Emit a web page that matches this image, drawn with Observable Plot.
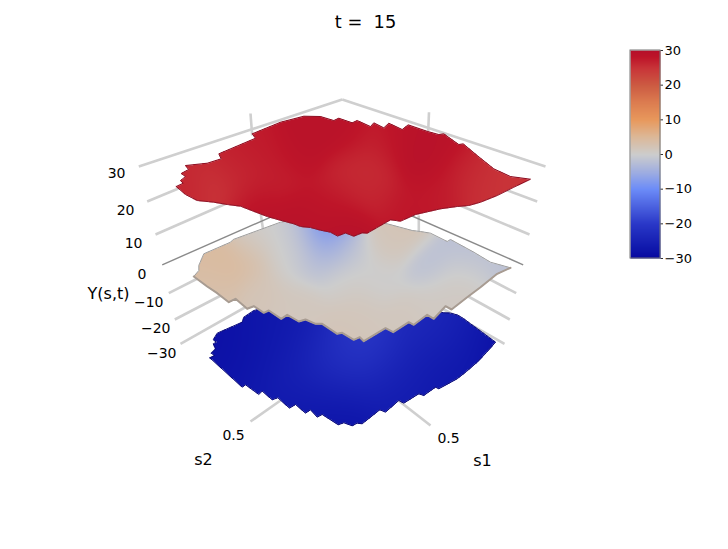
<!DOCTYPE html>
<html><head><meta charset="utf-8">
<style>html,body{margin:0;padding:0;background:#fff}svg{display:block}</style>
<script src="https://cdn.jsdelivr.net/npm/d3@7"></script>
<script src="https://cdn.jsdelivr.net/npm/@observablehq/plot@0.6"></script>
</head><body><script>
// Values, in the view plane of the 3-D scene.
const colorStops = [-30,-27,-20,-10,-5,0,5,10,15,20,25,28,30];
const colorRange = ["#0808a0","#1018ac","#2a38c8","#6c8cf8","#a0aee0","#cdcdcd","#dcb898","#e8985c","#dc7c50","#cc5a42","#c83338","#be1529","#b5102a"];

const redOutlineX = [175.7,182.7,180,185,180.7,188,185,206.7,220.7,218.3,255,251.7,280,303.3,320,333.3,338.3,351.7,356.7,370,373.3,383.3,388.3,401.7,407.7,427.3,438.3,443.3,458.3,462.7,476.7,493.3,510,530,513.3,496.7,480,468.3,456.7,440,415,400,390,366.7,361.7,353.3,345,337,330,320,310,300,293.3,278.3,266.7,240,226.7,213.3,196.7,185];
const redOutlineY = [186,182.7,180,176,173,169,165,162.7,158.3,153.3,137.7,133.3,121.7,115.7,116,120,117.7,122.3,120,126,122.3,127.3,122.7,129,124.3,131,134,133.3,144,143.3,155,168.3,176,178.7,186.7,195,201.7,205,206,208.3,214,220.7,219.3,232.7,232.3,235.7,232.5,235.5,231.7,229.7,227,226,223.3,219.3,216,205.7,204,201.7,200,194];
const midOutlineX = [193.3,198.3,198.3,203.3,230,232.7,280,320,386.7,411.7,420,430,446.7,450,473.3,490,510,496.7,480,466.7,451,445,433.3,426.7,413.3,408.3,392.7,385,363.3,359.3,353.3,341.7,336.7,321.7,315,305,298.3,286.7,280.7,268.3,263.3,253.3,246.7,235,228.3,216.7,206.7];
const midOutlineY = [276,270,265,253.3,241.7,239,221.7,215,223.3,230,231,232.7,241,239,251.7,261.7,267.3,273.3,286.7,296.7,309,305.7,318.3,314.3,324.3,321.7,331.7,327.7,340.7,336.7,339.3,332.3,333.3,323.3,323.3,319,321,314.3,318.3,310,312.3,305.7,308.3,298.3,301.7,292.7,286];
const bluOutlineX = [209.3,214,210.7,215,212.7,216,212.7,216.7,241.7,243.3,253.3,340,443.3,450,457,463,470,482,495,486,476.7,466,456.7,438.3,435,423.3,418.3,403.3,398.3,385,379.3,361.7,356.7,351.7,343.3,337.7,321.7,316.7,310,305,295,289,277.3,271.7,261.7,258.3,245,241.7];
const bluOutlineY = [357.3,355,352.7,348.3,343.3,341.7,339.3,332.7,321.7,316.7,310,290,312.3,312.6,314.5,318,323.3,332,341.7,352,361.7,371,378.3,388.3,386.7,395,393.3,402.7,400,411.7,409.3,423.3,422.7,425.3,422.3,424.3,414,416.7,409.3,412.7,404,407.7,397.3,399.3,390.7,394,384.3,386.7];

const redSampleX = [215,190,240,280,303,315,260,230,330,250,300,345,345,370,376,417,440,490,480,440,373,407,510,470,345,400,190];
const redSampleY = [190,180,180,175,150,125,150,165,200,205,220,230,175,170,140,157,140,177,187,190,190,207,178,165,130,135,195];
const redSampleV = [23.5,26,26,27,29,29,27.5,27,28,29,29,29.5,26,25.5,26.5,29.5,29,24.5,25.5,27.5,26.5,28,25,27,29,29,27];
const midSampleX = [225,205,250,215,260,300,345,290,325,330,315,350,340,300,390,400,430,470,500,450,400,380,255,470,280,360,430,300];
const midSampleY = [265,270,255,285,290,300,330,260,230,245,262,250,280,235,240,228,265,260,267,290,320,280,235,280,240,310,305,325];
const midSampleV = [4.8,4,3.8,2.8,2,1.5,2,0.3,-12,-4.5,-2.5,-0.5,0.5,-1.5,1.5,2.5,-2,-2.2,-2,1,1.5,0,0,1.2,0,1.5,1,1.5];
const bluSampleX = [367,330,290,423,460,490,223,270,340,400,450,300,250,340,390,430,300];
const bluSampleY = [350,360,380,330,330,342,350,340,417,395,375,405,375,390,375,360,345];
const bluSampleV = [-20,-21,-25,-23,-25,-29,-28.5,-27.5,-28.5,-27,-27.5,-27.5,-27.5,-25,-24,-26,-26];

const gridOuterLeftX = [138.3,146.7,155,161.7,168.3,174.3,180];
const gridOuterY     = [166,201,234,264.3,292.7,319,343.3];
const gridOuterRightX= [545,536.7,529,522.7,515.7,509.3,504];
const gridInnerLeftX = [341.7,190,235,342,205,230,255];
const gridInnerLeftY = [99,183,199,185,274,290,301];
const gridInnerRightX= [341.7,496,450,342,480,457,433];
const gridInnerY2    = [99,186,201,185,274,290,303];
const gridValues = [30,20,10,0,-10,-20,-30];
const leftLabelEnd = [125,134,142,146,163,170,176];
const leftLabelY = [173,210,243,274,302,328,353];

const postX1 = [250,428.5,260,418.3], postY1 = [113,111.7,211.7,215];
const postX2 = [251.7,427.7,262.7,418.3], postY2 = [135,131,230,232];
const footX1 = [250,430], footY1 = [421,425], footX2 = [280,398], footY2 = [400,400];
const barTicks = [30,20,10,0,-10,-20,-30];

const fmt = v => String(v).replace("-", "\u2212");
const rows = (xs, ys) => xs.map((x, i) => ({x, y: ys[i]}));
const barY = v => 50 + (30 - v) / 60 * 208;

function surface(ox, oy, sx, sy, sv, s) {
  const poly = ox.map((x, i) => [x, oy[i]]);
  return (x, y) => {
    if (!d3.polygonContains(poly, [x, y])) return NaN;
    let a = 0, b = 0;
    for (let i = 0; i < sx.length; i++) {
      const d = (x - sx[i]) ** 2 + (y - sy[i]) ** 2;
      const w = Math.exp(-d / (2 * s * s)) + 1e-9;
      a += w * sv[i]; b += w;
    }
    return a / b;
  };
}
function layer(ox, oy, sx, sy, sv, s) {
  return Plot.raster({
    fill: surface(ox, oy, sx, sy, sv, s),
    x1: d3.min(ox) - 1, x2: d3.max(ox) + 1,
    y1: d3.min(oy) - 1, y2: d3.max(oy) + 1,
    pixelSize: 1
  });
}
function rim(ox, oy, stroke, strokeWidth) {
  const r = rows(ox, oy); r.push(r[0]);
  return Plot.line(r, {x: "x", y: "y", stroke: () => stroke, strokeWidth});
}
const idx = d3.range(gridValues.length);
const solid = idx.filter(i => gridValues[i] !== 0);
const font = {fontFamily: "DejaVu Sans", fill: "#000"};

const midLower = d3.range(16, midOutlineX.length).concat([0]);

const plot = Plot.plot({
  width: 728, height: 549, margin: 0,
  x: {domain: [0, 728], range: [0, 728], axis: null},
  y: {domain: [0, 549], range: [0, 549], axis: null},
  color: {type: "linear", domain: colorStops, range: colorRange, legend: false},
  style: {fontFamily: "DejaVu Sans", background: "#fff"},
  marks: [
    Plot.link(solid, {x1: i => gridOuterLeftX[i], y1: i => gridOuterY[i], x2: i => gridInnerLeftX[i], y2: i => gridInnerLeftY[i], stroke: "#cfcfcf", strokeWidth: 2.6}),
    Plot.link(solid, {x1: i => gridOuterRightX[i], y1: i => gridOuterY[i], x2: i => gridInnerRightX[i], y2: i => gridInnerY2[i], stroke: "#cfcfcf", strokeWidth: 2.6}),
    Plot.link(postX1, {x1: d => d, y1: (d, i) => postY1[i], x2: (d, i) => postX2[i], y2: (d, i) => postY2[i], stroke: "#cfcfcf", strokeWidth: 2.6}),
    Plot.link(footX1, {x1: d => d, y1: (d, i) => footY1[i], x2: (d, i) => footX2[i], y2: (d, i) => footY2[i], stroke: "#cfcfcf", strokeWidth: 2.6}),
    Plot.link([3], {x1: i => gridOuterLeftX[i], y1: i => gridOuterY[i], x2: i => gridInnerLeftX[i], y2: i => gridInnerLeftY[i], stroke: "#8a8a8a", strokeWidth: 1.4}),
    Plot.link([3], {x1: i => gridOuterRightX[i], y1: i => gridOuterY[i], x2: i => gridInnerRightX[i], y2: i => gridInnerY2[i], stroke: "#8a8a8a", strokeWidth: 1.4}),

    layer(bluOutlineX, bluOutlineY, bluSampleX, bluSampleY, bluSampleV, 24),
    rim(bluOutlineX, bluOutlineY, "#0c0c78", 1),
    layer(midOutlineX, midOutlineY, midSampleX, midSampleY, midSampleV, 16),
    rim(midOutlineX, midOutlineY, "#a0a0a0", 1),
    Plot.line(midLower.map(i => ({x: midOutlineX[i], y: midOutlineY[i]})), {x: "x", y: "y", stroke: "#a89c92", strokeWidth: 2}),
    layer(redOutlineX, redOutlineY, redSampleX, redSampleY, redSampleV, 18),
    rim(redOutlineX, redOutlineY, "#8e1024", 1),

    Plot.text(["t = \u00a015"], {x: () => 365, y: () => 22, fontSize: 17.8, ...font}),
    Plot.text(idx, {x: i => leftLabelEnd[i], y: i => leftLabelY[i], text: i => fmt(gridValues[i]), textAnchor: "end", fontSize: 14, ...font}),
    Plot.text(["Y(s,t)"], {x: () => 108, y: () => 293, fontSize: 16, ...font}),
    Plot.text(["0.5"], {x: () => 233, y: () => 435, fontSize: 14, ...font}),
    Plot.text(["0.5"], {x: () => 448, y: () => 438, fontSize: 14, ...font}),
    Plot.text(["s2"], {x: () => 203, y: () => 459, fontSize: 16, ...font}),
    Plot.text(["s1"], {x: () => 482, y: () => 460, fontSize: 16, ...font}),

    Plot.raster({fill: (x, y) => 30 - (y - 50) / 208 * 60, x1: 630, x2: 660, y1: 50, y2: 258, pixelSize: 1}),
    Plot.rect([0], {x1: () => 630, x2: () => 660, y1: () => 50, y2: () => 258, fill: "none", stroke: "#777", strokeWidth: 1}),
    Plot.link(barTicks, {x1: () => 660, x2: () => 662.5, y1: barY, y2: barY, stroke: "#333", strokeWidth: 1}),
    Plot.text(barTicks, {x: () => 664, y: barY, text: fmt, textAnchor: "start", fontSize: 13, ...font})
  ]
});
document.body.appendChild(plot);
</script></body></html>
